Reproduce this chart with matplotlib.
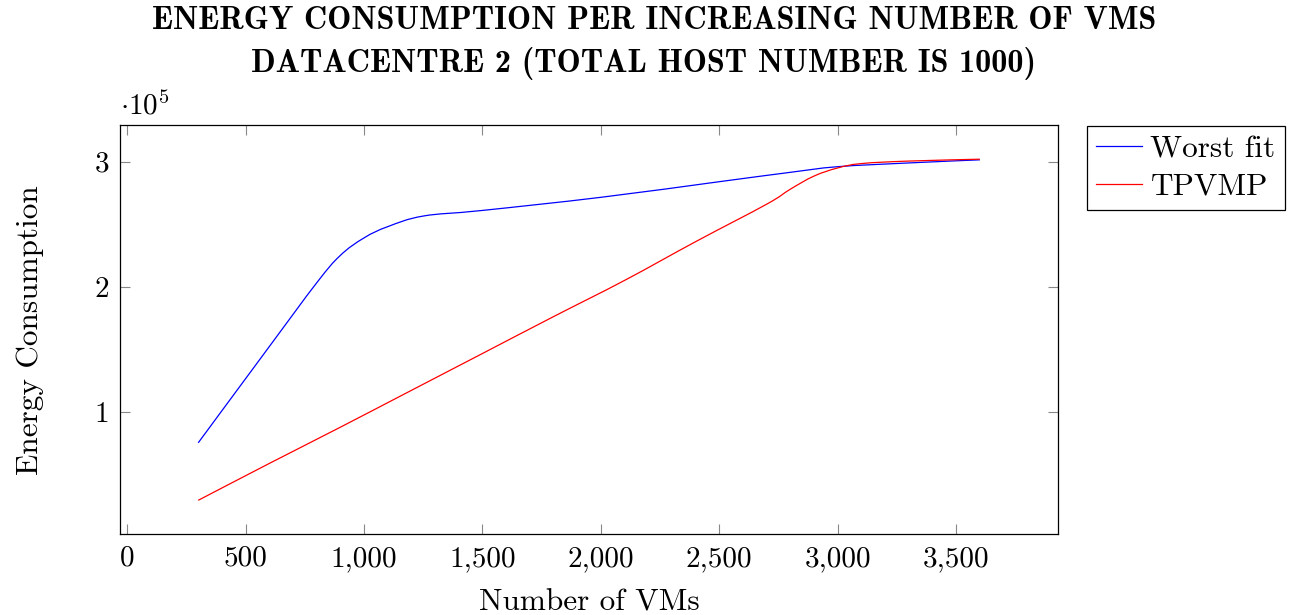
import numpy as np
import matplotlib.pyplot as plt
from matplotlib.path import Path
from matplotlib.patches import PathPatch
from matplotlib.lines import Line2D
from matplotlib.ticker import FuncFormatter

plt.rcParams['font.family'] = ['cmr10']
plt.rcParams['mathtext.fontset'] = 'cm'
plt.rcParams['axes.unicode_minus'] = False
plt.rcParams['axes.formatter.use_mathtext'] = True

# energy consumption against number of VMs, per placement policy
worst_fit_vms = [300, 600, 800, 900, 1000, 1100, 1250, 1500, 2000, 2500,
                 2800, 3000, 3300, 3600]
worst_fit = [75000, 152000, 203000, 225000, 239000, 248000, 256500, 261000,
             271500, 284000, 291500, 296000, 299000, 301500]

tpvmp_vms = [300, 600, 900, 1200, 1500, 1800, 2100, 2400, 2700, 2800, 2900,
             3000, 3100, 3300, 3600]
tpvmp = [29000, 58500, 87500, 117000, 146500, 176000, 205000, 236000,
         266000, 278000, 288500, 295000, 298500, 300500, 302000]

series_names = ['Worst fit', 'TPVMP']
series_colors = ['blue', 'red']
xticks = [0, 500, 1000, 1500, 2000, 2500, 3000, 3500]
yticks = [100000, 200000, 300000]


def smooth_path(xs, ys, tension=0.55):
    # cubic bezier through every point, like tikz "smooth"
    pts = np.column_stack([xs, ys]).astype(float)
    n = len(pts)
    verts = [pts[0]]
    codes = [Path.MOVETO]
    for i in range(n - 1):
        p0 = pts[i - 1] if i > 0 else pts[i]
        p1 = pts[i]
        p2 = pts[i + 1]
        p3 = pts[i + 2] if i + 2 < n else pts[i + 1]
        verts += [p1 + (p2 - p0) * tension / 3.0,
                  p2 - (p3 - p1) * tension / 3.0, p2]
        codes += [Path.CURVE4] * 3
    return Path(verts, codes)


fig = plt.figure(figsize=(12.95, 6.15), dpi=100)
ax = fig.add_axes([0.0927, 0.131, 0.7243, 0.665])

handles = []
for xs, ys, name, col in zip([worst_fit_vms, tpvmp_vms], [worst_fit, tpvmp],
                             series_names, series_colors):
    ax.add_patch(PathPatch(smooth_path(xs, ys), facecolor='none',
                           edgecolor=col, lw=0.9, zorder=3))
    handles.append(Line2D([], [], color=col, lw=0.9, label=name))

ax.set_xlim(-30, 3930)
ax.set_ylim(1700, 329000)
ax.set_xticks(xticks)
ax.set_yticks(yticks)
ax.xaxis.set_major_formatter(FuncFormatter(lambda v, p: f'{v:,.0f}'))
ax.yaxis.set_major_formatter(FuncFormatter(lambda v, p: f'{v / 1e5:.0f}'))
ax.tick_params(direction='in', length=7, width=0.8, color='#888888',
               top=True, right=True, labelsize=21, pad=8)
for s in ax.spines.values():
    s.set_linewidth(0.9)

ax.set_xlabel('Number of VMs', fontsize=22.5, labelpad=12)
ax.set_ylabel('Energy Consumption', fontsize=22.5, labelpad=36)
ax.text(0, 1.012, r'$\cdot 10^5$', transform=ax.transAxes, fontsize=21,
        ha='left', va='bottom')

fig.text(0.505, 0.966, 'ENERGY CONSUMPTION PER INCREASING NUMBER OF VMS',
         fontsize=23.2, fontfamily='cmb10', ha='center', va='center')
fig.text(0.497, 0.897, 'DATACENTRE 2 (TOTAL HOST NUMBER IS 1000)',
         fontsize=23.2, fontfamily='cmb10', ha='center', va='center')

leg = fig.legend(handles=handles, loc='upper left',
                 bbox_to_anchor=(1087 / 1295, 1 - 126 / 615),
                 fontsize=22.5, frameon=True, fancybox=False,
                 edgecolor='black', framealpha=1, handlelength=1.45,
                 handletextpad=0.28, borderpad=0.3, labelspacing=0.3,
                 borderaxespad=0)
leg.get_frame().set_linewidth(0.9)

fig.savefig('out.png', dpi=100)
